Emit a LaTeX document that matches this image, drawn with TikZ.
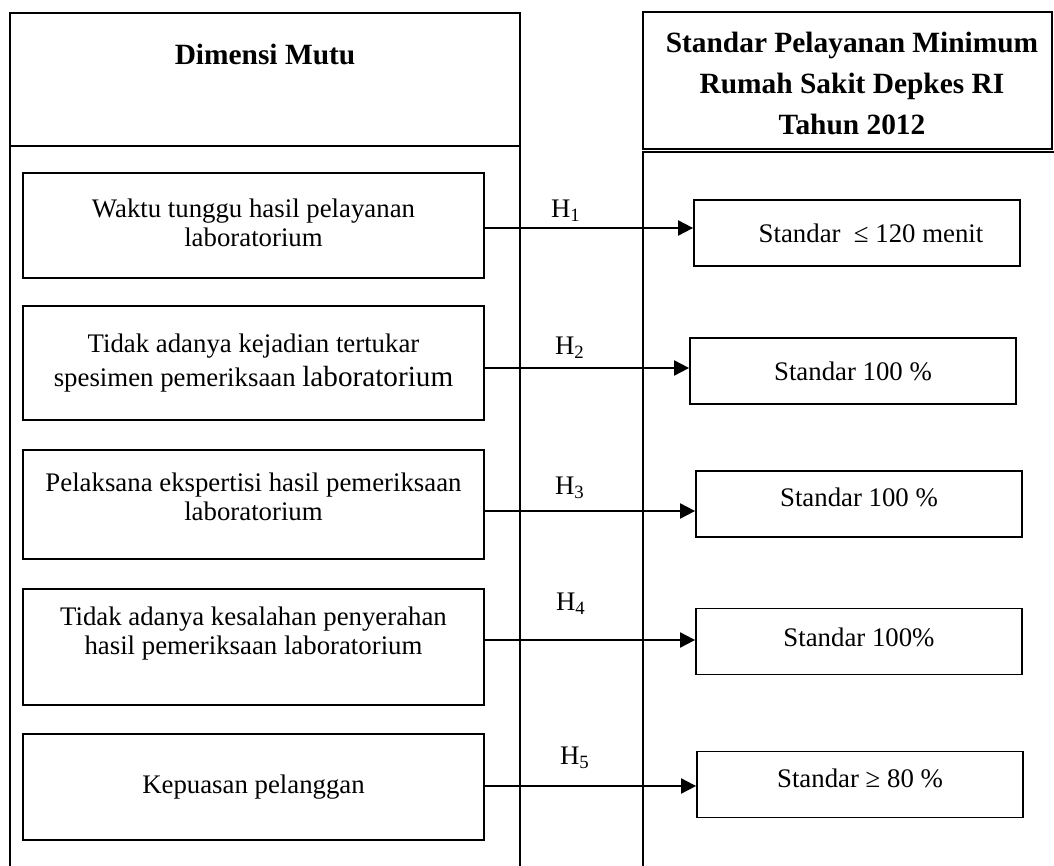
\documentclass[tikz,border=0pt]{standalone}
\usepackage{fontspec}
\setmainfont{Liberation Serif}
\usetikzlibrary{arrows.meta}
\newcommand{\boxfont}{\fontsize{13.4}{14.5}\selectfont}
\newcommand{\bigfont}{\fontsize{14.6}{15}\selectfont}
\newcommand{\headfont}{\fontsize{14.7}{20.5}\selectfont\bfseries}

\begin{document}
\begin{tikzpicture}[x=0.5pt,y=-0.5pt,
  frame/.style={line width=1pt},
  dimbox/.style={draw,line width=0.9pt,align=center,minimum width=230.5pt,font=\boxfont},
  spmbox/.style={draw,line width=0.9pt,align=center,minimum width=163pt,minimum height=33pt,font=\boxfont},
  arr/.style={line width=1pt,-{Triangle[length=7.5pt,width=7.5pt]}},
  hlab/.style={font=\boxfont}]
  \useasboundingbox (0,0) rectangle (1054,866);
  \clip (0,0) rectangle (1054,866);
  \draw[frame] (10,880) -- (10,13) -- (520,13) -- (520,880);
  \draw[frame] (10,146) -- (520,146);
  \draw[frame] (643,12) rectangle (1052,149);
  \draw[frame] (643,880) -- (643,152) -- (1060,152);
  \node[font=\headfont] (dim) at (265,54) {Dimensi Mutu};
  \node[font=\headfont,align=center] (spm) at (852,83) {Standar Pelayanan Minimum\\Rumah Sakit Depkes RI\\Tahun 2012};
  \node[dimbox,minimum height=52.5pt,text depth=3pt] (d1) at (253.5,225.5) {Waktu tunggu hasil pelayanan\\laboratorium};
  \node[dimbox,minimum height=57pt] (d2) at (253.5,363) {Tidak adanya kejadian tertukar\\[2.5pt]spesimen pemeriksaan {\bigfont laboratorium}};
  \node[dimbox,minimum height=54.5pt,text depth=8pt] (d3) at (253.5,504.5) {Pelaksana ekspertisi hasil pemeriksaan\\laboratorium};
  \node[dimbox,minimum height=58pt,text depth=16pt] (d4) at (253.5,647) {Tidak adanya kesalahan penyerahan\\hasil pemeriksaan laboratorium};
  \node[dimbox,minimum height=53pt] (d5) at (253.5,787) {Kepuasan pelanggan};
  \node[spmbox] (s1) at (857,233) {\hspace*{14pt}Standar \ ≤ 120 menit};
  \node[spmbox] (s2) at (853,371) {Standar 100 \%};
  \node[spmbox,text depth=7pt] (s3) at (859,504) {Standar 100 \%};
  \node[spmbox,text depth=4pt] (s4) at (859,641.5) {Standar 100\%};
  \node[spmbox,text depth=6pt] (s5) at (860,784.5) {Standar ≥ 80 \%};
  \draw[arr] (d1.east |- 0,228) -- (s1.west |- 0,228);
  \draw[arr] (d2.east |- 0,368) -- (s2.west |- 0,368);
  \draw[arr] (d3.east |- 0,511) -- (s3.west |- 0,511);
  \draw[arr] (d4.east |- 0,640) -- (s4.west |- 0,640);
  \draw[arr] (d5.east |- 0,786) -- (s5.west |- 0,786);
  \node[hlab] (h1) at (566,211) {H\textsubscript{1}};
  \node[hlab] (h2) at (570,348) {H\textsubscript{2}};
  \node[hlab] (h3) at (570,488) {H\textsubscript{3}};
  \node[hlab] (h4) at (571,604) {H\textsubscript{4}};
  \node[hlab] (h5) at (575,758) {H\textsubscript{5}};
\end{tikzpicture}
\end{document}
